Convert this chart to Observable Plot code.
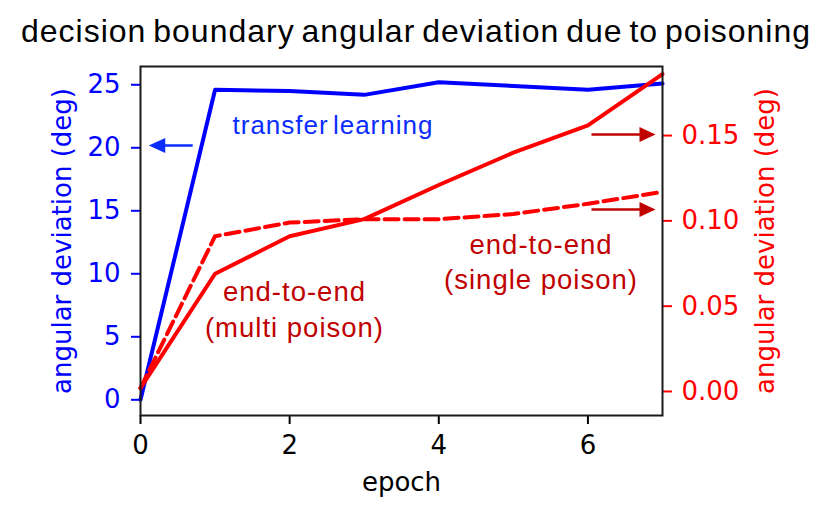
<!DOCTYPE html>
<html>
<head>
<meta charset="utf-8">
<script src="https://cdn.jsdelivr.net/npm/d3@7"></script>
<script src="https://cdn.jsdelivr.net/npm/@observablehq/plot@0.6"></script>
<style>
  body { margin: 0; background: white; }
  #title { width: 830px; height: 56px; line-height: 63px; text-align: center; font-family: "Liberation Sans", Arial, sans-serif; font-size: 32px; color: black; letter-spacing: 1px; word-spacing: -3px; white-space: nowrap; padding-left: 2px; box-sizing: border-box; }
</style>
</head>
<body>
<div id="title">decision boundary angular deviation due to poisoning</div>
<div id="chart"></div>
<script>
// ---- data ----
const epochs = [0, 1, 2, 3, 4, 5, 6, 7];
const transferLearning = [0, 24.6, 24.5, 24.2, 25.2, 24.9, 24.6, 25.1];   // left axis (deg)
const endToEndSolid = [0.002, 0.069, 0.091, 0.101, 0.121, 0.140, 0.156, 0.186]; // right axis (deg)
const endToEndDashed = [0.002, 0.091, 0.099, 0.101, 0.101, 0.104, 0.110, 0.117]; // right axis (deg)
const leftTicks = [0, 5, 10, 15, 20, 25];
const rightTicks = [0, 0.05, 0.10, 0.15];
const xTicks = [0, 2, 4, 6];
const annotTexts = ["transfer learning", "end-to-end\n(multi poison)", "end-to-end\n(single poison)"];

// right axis expressed in left-axis units
const toLeft = r => 0.66 + 135.4 * r;
const fromLeft = l => (l - 0.66) / 135.4;

const tl = epochs.map((e, i) => ({epoch: e, v: transferLearning[i]}));
const solid = epochs.map((e, i) => ({epoch: e, v: toLeft(endToEndSolid[i])}));
const dashed = epochs.map((e, i) => ({epoch: e, v: toLeft(endToEndDashed[i])}));

// annotations
const blueArrow = [{x1: 0.70, x2: 0.30, y: 20.18, tip: 0.111}];
const redArrows = [
  {x1: 6.048, x2: 6.72, y: 21.06, tip: 6.906},
  {x1: 6.048, x2: 6.72, y: 15.10, tip: 6.906}
];
const headRight = {draw(ctx) { ctx.moveTo(0, 0); ctx.lineTo(-16, -7.5); ctx.lineTo(-16, 7.5); ctx.closePath(); }};
const headLeft = {draw(ctx) { ctx.moveTo(0, 0); ctx.lineTo(16.5, -7.5); ctx.lineTo(16.5, 7.5); ctx.closePath(); }};

const darkRed = "#c00000";
const blueText = "#0a2cff";
const tickFont = "DejaVu Sans";
const annotFont = "Liberation Sans";
const fs = 26;

const plot = Plot.plot({
  width: 830,
  height: 453,
  marginTop: 10,
  marginBottom: 94,
  marginLeft: 140,
  marginRight: 168,
  style: {fontFamily: tickFont, fontSize: fs + "px", background: "white", overflow: "visible"},
  x: {domain: [0, 7]},
  y: {domain: [-1.246, 26.45]},
  marks: [
    Plot.line(tl, {x: "epoch", y: "v", stroke: "blue", strokeWidth: 4}),
    Plot.line(solid, {x: "epoch", y: "v", stroke: "red", strokeWidth: 4}),
    Plot.line(dashed, {x: "epoch", y: "v", stroke: "red", strokeWidth: 4, strokeDasharray: "14,6"}),
    // arrows
    Plot.link(blueArrow, {x1: "x1", x2: "x2", y1: "y", y2: "y", stroke: blueText, strokeWidth: 2.5}),
    Plot.dot(blueArrow, {x: "tip", y: "y", symbol: headLeft, r: 8, fill: blueText, stroke: null}),
    Plot.link(redArrows, {x1: "x1", x2: "x2", y1: "y", y2: "y", stroke: darkRed, strokeWidth: 2.5}),
    Plot.dot(redArrows, {x: "tip", y: "y", symbol: headRight, r: 8, fill: darkRed, stroke: null}),
    // annotation texts
    Plot.text([annotTexts[0]], {x: 2.581, y: 21.11, text: d => d, fill: blueText, fontSize: 26, fontFamily: annotFont, lineAnchor: "bottom"}),
    Plot.text([annotTexts[1]], {x: 2.065, y: 5.02, text: d => d, fill: darkRed, fontSize: 27.5, fontFamily: annotFont, lineAnchor: "bottom", lineHeight: 1.31}),
    Plot.text([annotTexts[2]], {x: 5.371, y: 8.81, text: d => d, fill: darkRed, fontSize: 27.5, fontFamily: annotFont, lineAnchor: "bottom", lineHeight: 1.28}),
    // axes
    Plot.axisY({anchor: "left", ticks: leftTicks, tickFormat: d => String(d), tickSize: 9, tickPadding: 11, color: "blue", strokeWidth: 2, fontFamily: tickFont, fontSize: fs, label: null}),
    Plot.axisY({anchor: "right", ticks: rightTicks.map(toLeft), tickFormat: d => fromLeft(d).toFixed(2), tickSize: 9, tickPadding: 10, color: "red", strokeWidth: 2, fontFamily: tickFont, fontSize: fs, label: null}),
    Plot.axisX({anchor: "bottom", ticks: xTicks, tickFormat: d => String(d), tickSize: 9, tickPadding: 11, color: "black", strokeWidth: 2, fontFamily: tickFont, fontSize: fs, label: null}),
    // axis labels
    Plot.text(["angular deviation (deg)"], {frameAnchor: "left", dx: -77.5, rotate: -90, text: d => d, fill: "blue", fontSize: fs, fontFamily: tickFont, textAnchor: "middle", lineAnchor: "middle"}),
    Plot.text(["angular deviation (deg)"], {frameAnchor: "right", dx: 103.5, rotate: -90, text: d => d, fill: "red", fontSize: fs, fontFamily: tickFont, textAnchor: "middle", lineAnchor: "middle"}),
    Plot.text(["epoch"], {frameAnchor: "bottom", dy: 75, text: d => d, fill: "black", fontSize: fs, fontFamily: tickFont, lineAnchor: "bottom"}),
    Plot.frame({stroke: "#1a1a1a", strokeWidth: 2})
  ]
});
// slightly wider tracking on the annotation labels (as in the reference)
const svgSel = d3.select(plot);
svgSel.selectAll("text")
  .filter(function() { return /transfer|end-to-end/.test(this.textContent); })
  .style("letter-spacing", "1px");
svgSel.selectAll("text")
  .filter(function() { return /transfer/.test(this.textContent); })
  .style("word-spacing", "-4px");
document.getElementById("chart").appendChild(plot);
</script>
</body>
</html>
